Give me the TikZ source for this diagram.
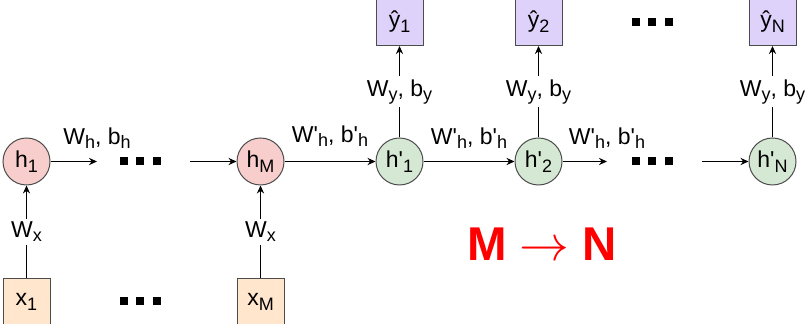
\documentclass[tikz,border=0pt]{standalone}
\usepackage{fontspec}
\setmainfont{Liberation Sans}
\usepackage{tikz}
\usetikzlibrary{arrows.meta}
\definecolor{rosado}{RGB}{248,206,204}
\definecolor{verdeclaro}{RGB}{213,232,212}
\definecolor{melocoton}{RGB}{255,230,204}
\definecolor{lila}{RGB}{222,210,250}
\newcommand\subs[1]{\raisebox{-2.2pt}{\fontsize{9}{10}\selectfont #1}}
\newcommand\prm{\textquotesingle}
\newcommand\cuadros{\rule{4pt}{4pt}\hspace{4.25pt}\rule{4pt}{4pt}\hspace{4.25pt}\rule{4pt}{4pt}}

\begin{document}
\begin{tikzpicture}[x=0.5pt, y=-0.5pt, every node/.style={font=\fontsize{11.5}{13}\selectfont},
  oculta/.style={circle, draw=black!70, line width=0.5pt, minimum size=23.5pt, inner sep=0pt},
  caja/.style={rectangle, draw=black!70, line width=0.5pt, minimum size=23.5pt, inner sep=0pt},
  etiq/.style={fill=white, inner sep=1.5pt},
  encima/.style={anchor=base, yshift=8.5pt},
  puntos/.style={inner sep=0pt},
  flecha/.style={draw, line width=0.6pt, -{Stealth[length=4pt, width=3.6pt]}}]
\useasboundingbox (0,0) rectangle (806,324);
% entradas
\node[caja, fill=melocoton] (x1) at (26.5,302) {x\subs{1}};
\node[puntos] (px) at (140,301.5) {\cuadros};
\node[caja, fill=melocoton] (xM) at (260.5,302) {x\subs{M}};
% estados ocultos
\node[oculta, fill=rosado] (h1) at (26.5,161.5) {h\subs{1}};
\node[puntos] (ph) at (140,161.5) {\cuadros};
\node[oculta, fill=rosado] (hM) at (260.5,161.5) {h\subs{M}};
\node[oculta, fill=verdeclaro] (g1) at (399.5,161.5) {h\prm\subs{1}};
\node[oculta, fill=verdeclaro] (g2) at (538.5,161.5) {h\prm\subs{2}};
\node[puntos] (pg) at (652,161.5) {\cuadros};
\node[oculta, fill=verdeclaro] (gN) at (772.5,161.5) {h\prm\subs{N}};
% salidas
\node[caja, fill=lila] (y1) at (399.5,22) {ŷ\subs{1}};
\node[caja, fill=lila] (y2) at (538.5,22) {ŷ\subs{2}};
\node[puntos] (py) at (652,22) {\cuadros};
\node[caja, fill=lila] (yN) at (772.5,22) {ŷ\subs{N}};
\coordinate (a1) at (97,161.5);
\coordinate (a2) at (190,161.5);
\coordinate (a3) at (607,161.5);
\coordinate (a4) at (702,161.5);
% conexiones
\draw[flecha] (x1) -- node[etiq] (wx1) {W\subs{x}} (h1);
\draw[flecha] (xM) -- node[etiq] (wxM) {W\subs{x}} (hM);
\draw[flecha] (h1) -- node[pos=1, encima] (wh1) {W\subs{h}, b\subs{h}} (a1);
\draw[flecha] (a2) -- (hM);
\draw[flecha] (hM) -- node[midway, encima, yshift=1pt] (wg0) {W\prm\subs{h}, b\prm\subs{h}} (g1);
\draw[flecha] (g1) -- node[midway, encima] (wg1) {W\prm\subs{h}, b\prm\subs{h}} (g2);
\draw[flecha] (g2) -- node[pos=1, encima] (wg2) {W\prm\subs{h}, b\prm\subs{h}} (a3);
\draw[flecha] (a4) -- (gN);
\draw[flecha] (g1) -- node[etiq] (wy1) {W\subs{y}, b\subs{y}} (y1);
\draw[flecha] (g2) -- node[etiq] (wy2) {W\subs{y}, b\subs{y}} (y2);
\draw[flecha] (gN) -- node[etiq] (wyN) {W\subs{y}, b\subs{y}} (yN);
\node[text=red, font=\fontsize{23.7}{28}\selectfont\bfseries] (mn) at (542,244) {M $\rightarrow$ N};
\end{tikzpicture}
\end{document}
